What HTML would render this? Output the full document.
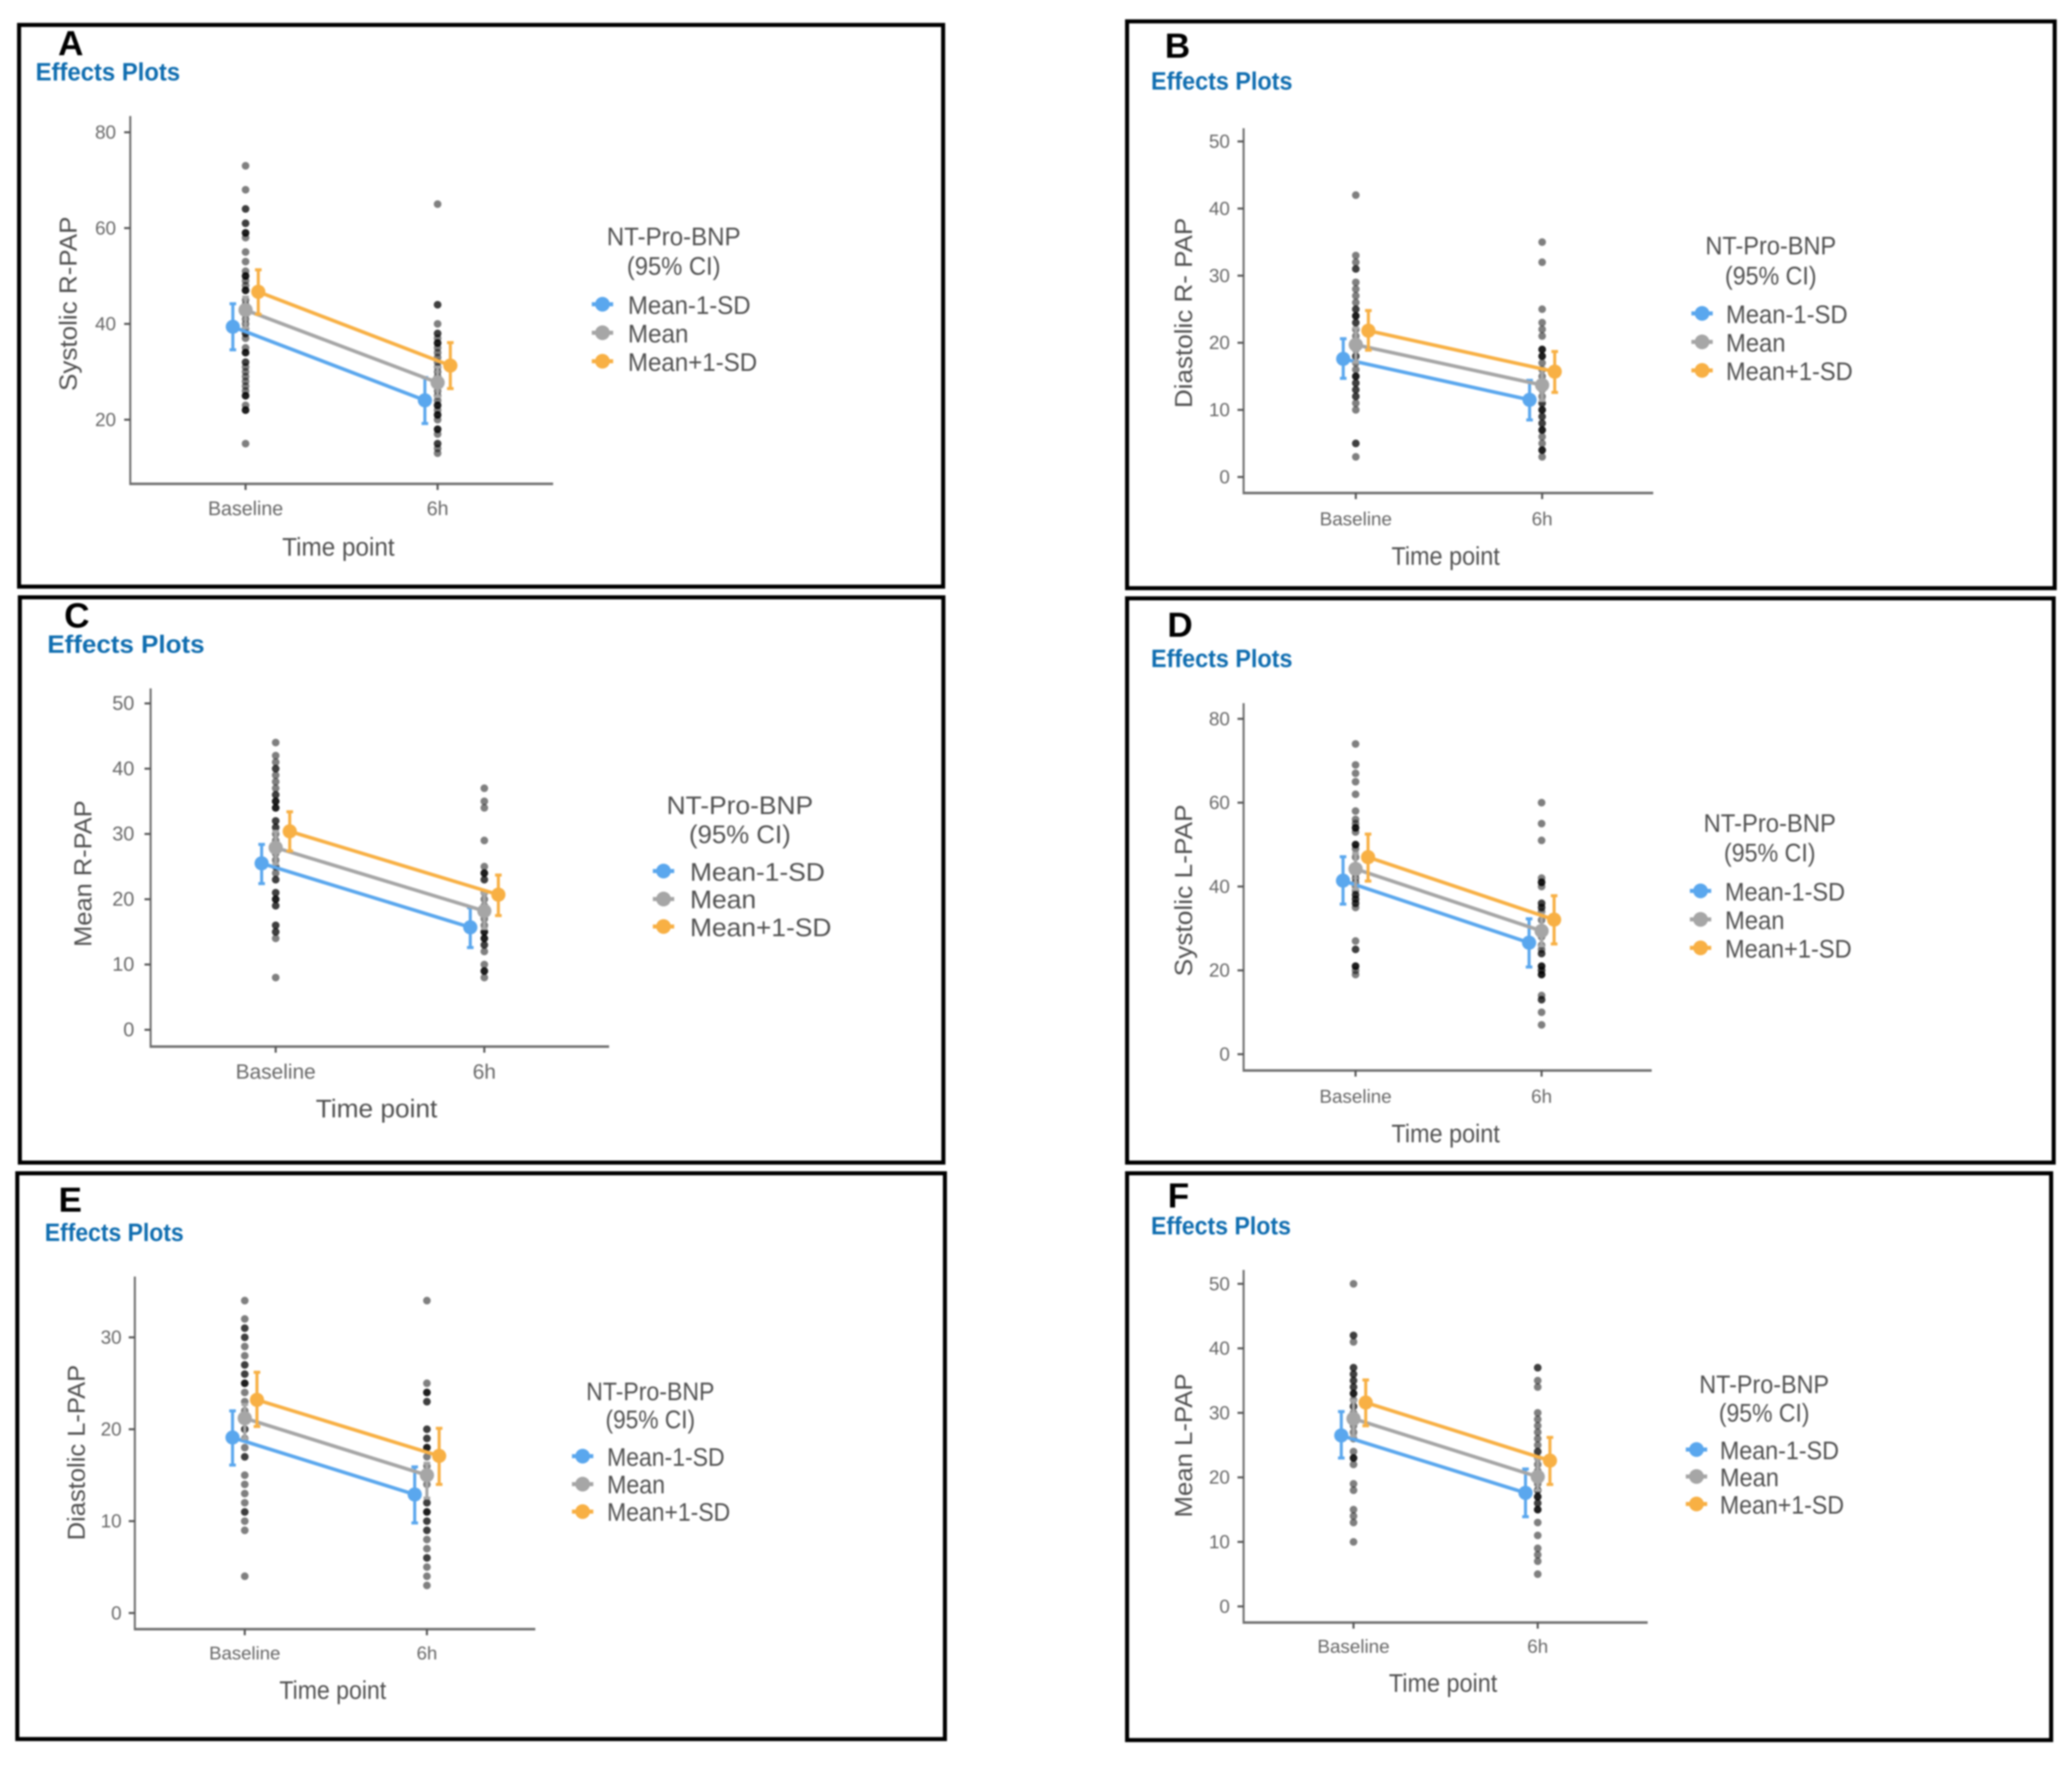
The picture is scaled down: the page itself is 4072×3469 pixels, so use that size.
<!DOCTYPE html>
<html lang="en">
<head>
<meta charset="utf-8">
<title>Effects Plots</title>
<style>
html,body{margin:0;padding:0;background:#fff;width:4072px;height:3469px;overflow:hidden}
svg{display:block;filter:blur(1.5px)}
text{font-family:"Liberation Sans",sans-serif;dominant-baseline:central}
.box{fill:#fff;stroke:#000;stroke-width:8}
.letter{font-size:69px;font-weight:700;fill:#000;text-anchor:middle}
.eff{font-size:49px;font-weight:700;fill:#0f6db0}
.ytitle{font-size:48px;fill:#505050;text-anchor:middle}
.xtitle{font-size:50px;fill:#505050;text-anchor:middle}
.lt{font-size:50px;fill:#505050;text-anchor:middle}
.li{font-size:50px;fill:#505050}
.tick{font-size:37px;fill:#666}
</style>
</head>
<body>
<svg xmlns="http://www.w3.org/2000/svg" width="4072" height="3469" viewBox="0 0 4072 3469">
<defs>
<g id="k"><line x1="-21" x2="21" y1="0" y2="0" stroke-width="8" stroke="currentColor"/><circle r="14.5" fill="currentColor"/></g>
</defs>
<rect width="4072" height="3469" fill="#fff"/>

<g>
<rect class="box" x="37.5" y="49" width="1816" height="1104"/>
<g id="plot-a"></g>
<text class="letter" x="139" y="85">A</text>
<text class="eff" x="70" y="142" textLength="284" lengthAdjust="spacingAndGlyphs">Effects Plots</text>
<text class="ytitle" transform="translate(135 597) rotate(-90)" textLength="343" lengthAdjust="spacingAndGlyphs">Systolic R-PAP</text>
<text class="xtitle" x="665" y="1075" textLength="221" lengthAdjust="spacingAndGlyphs">Time point</text>
<text class="lt" x="1324" y="465" textLength="263" lengthAdjust="spacingAndGlyphs">NT-Pro-BNP</text>
<text class="lt" x="1324" y="523" textLength="184" lengthAdjust="spacingAndGlyphs">(95% CI)</text>
<use href="#k" x="1184" y="598" color="#5aa7ee"/>
<use href="#k" x="1184" y="654" color="#a6a6a6"/>
<use href="#k" x="1184" y="710" color="#f8b044"/>
<text class="li" x="1234" y="600" textLength="241" lengthAdjust="spacingAndGlyphs">Mean-1-SD</text>
<text class="li" x="1234" y="656" textLength="119" lengthAdjust="spacingAndGlyphs">Mean</text>
<text class="li" x="1234" y="712" textLength="254" lengthAdjust="spacingAndGlyphs">Mean+1-SD</text>
</g>

<g>
<rect class="box" x="2215" y="42" width="1823" height="1114"/>
<g id="plot-b"></g>
<text class="letter" x="2314" y="90">B</text>
<text class="eff" x="2262" y="160" textLength="278" lengthAdjust="spacingAndGlyphs">Effects Plots</text>
<text class="ytitle" transform="translate(2327 615) rotate(-90)" textLength="374" lengthAdjust="spacingAndGlyphs">Diastolic R- PAP</text>
<text class="xtitle" x="2841" y="1093" textLength="213" lengthAdjust="spacingAndGlyphs">Time point</text>
<text class="lt" x="3480" y="483" textLength="257" lengthAdjust="spacingAndGlyphs">NT-Pro-BNP</text>
<text class="lt" x="3480" y="542" textLength="180" lengthAdjust="spacingAndGlyphs">(95% CI)</text>
<use href="#k" x="3345" y="616" color="#5aa7ee"/>
<use href="#k" x="3345" y="672" color="#a6a6a6"/>
<use href="#k" x="3345" y="728" color="#f8b044"/>
<text class="li" x="3392" y="618" textLength="239" lengthAdjust="spacingAndGlyphs">Mean-1-SD</text>
<text class="li" x="3392" y="674" textLength="117" lengthAdjust="spacingAndGlyphs">Mean</text>
<text class="li" x="3392" y="730" textLength="249" lengthAdjust="spacingAndGlyphs">Mean+1-SD</text>
</g>

<g>
<rect class="box" x="39" y="1174" width="1815" height="1111"/>
<g id="plot-c"></g>
<text class="letter" x="151" y="1210">C</text>
<text class="eff" x="93" y="1267" textLength="309" lengthAdjust="spacingAndGlyphs">Effects Plots</text>
<text class="ytitle" transform="translate(164 1717) rotate(-90)" textLength="288" lengthAdjust="spacingAndGlyphs">Mean R-PAP</text>
<text class="xtitle" x="740" y="2179" textLength="239" lengthAdjust="spacingAndGlyphs">Time point</text>
<text class="lt" x="1454" y="1583" textLength="288" lengthAdjust="spacingAndGlyphs">NT-Pro-BNP</text>
<text class="lt" x="1454" y="1640" textLength="200" lengthAdjust="spacingAndGlyphs">(95% CI)</text>
<use href="#k" x="1304" y="1712" color="#5aa7ee"/>
<use href="#k" x="1304" y="1767" color="#a6a6a6"/>
<use href="#k" x="1304" y="1821" color="#f8b044"/>
<text class="li" x="1356" y="1714" textLength="265" lengthAdjust="spacingAndGlyphs">Mean-1-SD</text>
<text class="li" x="1356" y="1768" textLength="130" lengthAdjust="spacingAndGlyphs">Mean</text>
<text class="li" x="1356" y="1823" textLength="278" lengthAdjust="spacingAndGlyphs">Mean+1-SD</text>
</g>

<g>
<rect class="box" x="2215" y="1176" width="1821" height="1109"/>
<g id="plot-d"></g>
<text class="letter" x="2319" y="1228">D</text>
<text class="eff" x="2262" y="1295" textLength="278" lengthAdjust="spacingAndGlyphs">Effects Plots</text>
<text class="ytitle" transform="translate(2327 1750) rotate(-90)" textLength="338" lengthAdjust="spacingAndGlyphs">Systolic L-PAP</text>
<text class="xtitle" x="2841" y="2228" textLength="213" lengthAdjust="spacingAndGlyphs">Time point</text>
<text class="lt" x="3478" y="1618" textLength="260" lengthAdjust="spacingAndGlyphs">NT-Pro-BNP</text>
<text class="lt" x="3478" y="1676" textLength="180" lengthAdjust="spacingAndGlyphs">(95% CI)</text>
<use href="#k" x="3342" y="1751" color="#5aa7ee"/>
<use href="#k" x="3342" y="1807" color="#a6a6a6"/>
<use href="#k" x="3342" y="1863" color="#f8b044"/>
<text class="li" x="3390" y="1753" textLength="236" lengthAdjust="spacingAndGlyphs">Mean-1-SD</text>
<text class="li" x="3390" y="1809" textLength="117" lengthAdjust="spacingAndGlyphs">Mean</text>
<text class="li" x="3390" y="1865" textLength="249" lengthAdjust="spacingAndGlyphs">Mean+1-SD</text>
</g>

<g>
<rect class="box" x="34" y="2306" width="1823" height="1112"/>
<g id="plot-e"></g>
<text class="letter" x="138" y="2358">E</text>
<text class="eff" x="88" y="2423" textLength="273" lengthAdjust="spacingAndGlyphs">Effects Plots</text>
<text class="ytitle" transform="translate(151 2855) rotate(-90)" textLength="345" lengthAdjust="spacingAndGlyphs">Diastolic L-PAP</text>
<text class="xtitle" x="654" y="3322" textLength="210" lengthAdjust="spacingAndGlyphs">Time point</text>
<text class="lt" x="1278" y="2735" textLength="252" lengthAdjust="spacingAndGlyphs">NT-Pro-BNP</text>
<text class="lt" x="1278" y="2790" textLength="176" lengthAdjust="spacingAndGlyphs">(95% CI)</text>
<use href="#k" x="1145" y="2862" color="#5aa7ee"/>
<use href="#k" x="1145" y="2917" color="#a6a6a6"/>
<use href="#k" x="1145" y="2971" color="#f8b044"/>
<text class="li" x="1193" y="2864" textLength="231" lengthAdjust="spacingAndGlyphs">Mean-1-SD</text>
<text class="li" x="1193" y="2918" textLength="114" lengthAdjust="spacingAndGlyphs">Mean</text>
<text class="li" x="1193" y="2972" textLength="242" lengthAdjust="spacingAndGlyphs">Mean+1-SD</text>
</g>

<g>
<rect class="box" x="2215" y="2306" width="1816" height="1114"/>
<g id="plot-f"></g>
<text class="letter" x="2316" y="2350">F</text>
<text class="eff" x="2262" y="2410" textLength="275" lengthAdjust="spacingAndGlyphs">Effects Plots</text>
<text class="ytitle" transform="translate(2327 2841) rotate(-90)" textLength="283" lengthAdjust="spacingAndGlyphs">Mean L-PAP</text>
<text class="xtitle" x="2836" y="3308" textLength="213" lengthAdjust="spacingAndGlyphs">Time point</text>
<text class="lt" x="3467" y="2721" textLength="255" lengthAdjust="spacingAndGlyphs">NT-Pro-BNP</text>
<text class="lt" x="3467" y="2777" textLength="178" lengthAdjust="spacingAndGlyphs">(95% CI)</text>
<use href="#k" x="3334" y="2849" color="#5aa7ee"/>
<use href="#k" x="3334" y="2902" color="#a6a6a6"/>
<use href="#k" x="3334" y="2956" color="#f8b044"/>
<text class="li" x="3380" y="2851" textLength="234" lengthAdjust="spacingAndGlyphs">Mean-1-SD</text>
<text class="li" x="3380" y="2904" textLength="116" lengthAdjust="spacingAndGlyphs">Mean</text>
<text class="li" x="3380" y="2958" textLength="244" lengthAdjust="spacingAndGlyphs">Mean+1-SD</text>
</g>
</svg>

<script>
// Shared categories
const categories = ['Baseline', '6h'];

// Panel A: Systolic R-PAP
const aTicks = [20, 40, 60, 80];
const aBaselineDots = [73,68,64,64,61,61,59,59,59,58,55,53,51,50,50,50,49,48,47,47,47,45,44,43,42,41,40,39,38,38,37,35,34,34,34,32,32,31,30,29,28,27,26,25,25,25,23,22,22,22,15];
const aSixHourDots = [65,44,44,40,38,38,37,36,36,36,35,34,33,32,31,30,29,28,27,26,25,24,23,23,23,22,21,21,21,20,18,18,18,17,15,15,14,13];
const aLow = [39.4, 24.05];
const aLowLower = [34.6, 19.2];
const aLowUpper = [44.2, 28.8];
const aMid = [42.9, 27.75];
const aMidLower = [39.2, 24.8];
const aMidUpper = [45.6, 31];
const aHigh = [46.7, 31.3];
const aHighLower = [42, 26.5];
const aHighUpper = [51.3, 36.1];

// Panel B: Diastolic R-PAP
const bTicks = [0, 10, 20, 30, 40, 50];
const bBaselineDots = [42,33,32,31,31,29,28,27,26,25,25,24,24,24,23,23,22,21,20,19,18,18,17,16,15,15,15,14,14,13,13,12,12,11,10,5,5,3];
const bSixHourDots = [35,32,25,23,22,21,19,19,19,18,18,18,17,16,15,14,13,12,11,11,10,10,10,9,9,8,8,7,7,7,6,5,4,4,4,3];
const bLow = [17.6, 11.5];
const bLowLower = [14.7, 8.5];
const bLowUpper = [20.6, 14.4];
const bMid = [19.7, 13.7];
const bMidLower = [17.1, 11.4];
const bMidUpper = [22.2, 16.2];
const bHigh = [21.8, 15.7];
const bHighLower = [18.9, 12.6];
const bHighUpper = [24.8, 18.7];

// Panel C: Mean R-PAP
const cTicks = [0, 10, 20, 30, 40, 50];
const cBaselineDots = [44,42,41,40,40,39,38,37,36,36,35,35,35,34,34,34,32,32,31,31,30,29,28,27,26,25,25,24,23,23,21,21,20,20,20,19,19,16,16,15,15,14,8];
const cSixHourDots = [37,35,34,29,25,24,24,24,23,23,21,20,19,18,17,16,15,15,15,14,14,14,13,13,12,10,9,9,9,8];
const cLow = [25.5, 15.7];
const cLowLower = [22.4, 12.6];
const cLowUpper = [28.4, 18.7];
const cMid = [27.9, 18.2];
const cMidLower = [25.4, 15.5];
const cMidUpper = [30.4, 20.9];
const cHigh = [30.4, 20.7];
const cHighLower = [27.4, 17.5];
const cHighUpper = [33.4, 23.7];

// Panel D: Systolic L-PAP
const dTicks = [0, 20, 40, 60, 80];
const dBaselineDots = [74,69,67,65,62,58,56,55,54,54,54,53,50,50,50,49,47,45,44,43,42,41,40,39,38,38,37,37,36,36,35,27,25,25,21,21,21,20,19];
const dSixHourDots = [60,55,51,42,41,41,41,40,36,36,35,35,34,32,30,28,26,25,24,24,21,21,21,20,20,19,19,19,14,13,13,10,7];
const dLow = [41.4, 26.6];
const dLowLower = [35.8, 20.8];
const dLowUpper = [47.1, 32.3];
const dMid = [44.2, 29.4];
const dMidLower = [39.4, 25.8];
const dMidUpper = [47.9, 33.4];
const dHigh = [47, 32.1];
const dHighLower = [41.3, 26.3];
const dHighUpper = [52.5, 37.8];

// Panel E: Diastolic L-PAP
const eTicks = [0, 10, 20, 30];
const eBaselineDots = [34,32,31,31,30,30,29,28,27,27,26,26,25,25,25,24,23,22,21,20,20,19,18,17,17,15,14,13,12,11,11,10,9,4];
const eSixHourDots = [34,25,24,24,24,23,23,20,20,19,19,18,18,18,17,16,15,14,12,12,11,11,11,10,10,9,9,8,7,6,6,5,4,3];
const eLow = [19.1, 12.9];
const eLowLower = [16.1, 9.8];
const eLowUpper = [22, 15.9];
const eMid = [21.2, 15];
const eMidLower = [19, 12.5];
const eMidUpper = [22.7, 16.3];
const eHigh = [23.2, 17.1];
const eHighLower = [20.3, 14];
const eHighUpper = [26.2, 20.1];

// Panel F: Mean L-PAP
const fTicks = [0, 10, 20, 30, 40, 50];
const fBaselineDots = [50,42,42,41,37,37,36,36,35,35,34,34,33,33,33,32,31,31,30,29,28,27,26,24,23,23,23,22,19,18,15,14,13,10];
const fSixHourDots = [37,37,35,34,30,29,28,27,26,25,24,24,23,22,21,20,19,18,18,17,17,17,16,16,15,15,15,13,11,9,8,7,5];
const fLow = [26.5, 17.6];
const fLowLower = [23, 13.9];
const fLowUpper = [30.2, 21.3];
const fMid = [29.1, 20.1];
const fMidLower = [26.4, 18];
const fMidUpper = [31.9, 22.9];
const fHigh = [31.6, 22.6];
const fHighLower = [28, 18.9];
const fHighUpper = [35.1, 26.2];

// Axis frames (layout only)
const frames = {
  a: {left:256,  right:1087, top:228,  bottom:951,  zero:1013.2, unit:9.415, c0:482.6, c1:860,   dodge:25,   catY:1000, catSize:38.5, tickSize:37, tickGap:28},
  b: {left:2444, right:3249, top:252,  bottom:969,  zero:937.5,  unit:13.19, c0:2664.5,c1:3030.7,dodge:24.7, catY:1020, catSize:37,   tickSize:37, tickGap:27},
  c: {left:296,  right:1197, top:1353, bottom:2057, zero:2024,   unit:12.83, c0:541.8, c1:951.8, dodge:27.6, catY:2106, catSize:41,   tickSize:39, tickGap:32},
  d: {left:2444, right:3246, top:1382, bottom:2104, zero:2072,   unit:8.24,  c0:2664,  c1:3029.6,dodge:24.6, catY:2155, catSize:37,   tickSize:37, tickGap:27},
  e: {left:265,  right:1052, top:2509, bottom:3202, zero:3170.3, unit:18.06, c0:481,   c1:839,   dodge:24,   catY:3249, catSize:36.5, tickSize:37, tickGap:26},
  f: {left:2444, right:3238, top:2496, bottom:3189, zero:3157.3, unit:12.68, c0:2660,  c1:3022,  dodge:24,   catY:3236, catSize:37,   tickSize:37, tickGap:27}
};

const NS = 'http://www.w3.org/2000/svg';
function mk(tag, attrs, parent) {
  const el = document.createElementNS(NS, tag);
  for (const k in attrs) el.setAttribute(k, attrs[k]);
  parent.appendChild(el);
  return el;
}

function drawSeries(root, f, yOf, means, lows, highs, offset, color) {
  const xs = [f.c0 + offset, f.c1 + offset];
  const line = mk('line', {x1:xs[0], y1:yOf(means[0]), x2:xs[1], y2:yOf(means[1]), stroke:color, 'stroke-width':7}, root);
  
  
  xs.forEach(function (x, i) {
    const bar = mk('path', {
      d: 'M' + (x-6.5) + ' ' + yOf(highs[i]) + 'H' + (x+6.5) + 'M' + x + ' ' + yOf(highs[i]) + 'V' + yOf(lows[i]) + 'M' + (x-6.5) + ' ' + yOf(lows[i]) + 'H' + (x+6.5),
      stroke: color, 'stroke-width': 6, fill: 'none'
    }, root);
    
    
    const pt = mk('circle', {cx:x, cy:yOf(means[i]), r:14, fill:color}, root);
    
    
  });
}

function drawPanel(id, ticks, baseDots, sixDots, series) {
  const f = frames[id];
  const root = document.getElementById('plot-' + id);
  const yOf = function (v) { return f.zero - v * f.unit; };

  const yAxis = mk('line', {x1:f.left, x2:f.left, y1:f.top, y2:f.bottom, stroke:'#707070', 'stroke-width':4}, root);
  
  
  const xAxis = mk('line', {x1:f.left-2, x2:f.right, y1:f.bottom, y2:f.bottom, stroke:'#707070', 'stroke-width':5}, root);
  
  

  ticks.forEach(function (t) {
    const mark = mk('line', {x1:f.left-12, x2:f.left, y1:yOf(t), y2:yOf(t), stroke:'#555', 'stroke-width':4}, root);
    
    
    const lab = mk('text', {x:f.left-f.tickGap, y:yOf(t), 'text-anchor':'end', 'class':'tick'}, root);
    
    
    lab.style.fontSize = f.tickSize + 'px';
    lab.textContent = t;
  });

  [f.c0, f.c1].forEach(function (x, i) {
    const mark = mk('line', {x1:x, x2:x, y1:f.bottom, y2:f.bottom+12, stroke:'#555', 'stroke-width':4}, root);
    
    
    const lab = mk('text', {x:x, y:f.catY, 'text-anchor':'middle', 'class':'tick'}, root);
    
    
    lab.style.fontSize = f.catSize + 'px';
    lab.textContent = categories[i];
  });

  [[baseDots, f.c0], [sixDots, f.c1]].forEach(function (pair) {
    pair[0].forEach(function (v) {
      const dot = mk('circle', {cx:pair[1], cy:yOf(v), r:7.5, fill:'#000', 'fill-opacity':0.5}, root);
      
      
    });
  });

  drawSeries(root, f, yOf, series[0][0], series[0][1], series[0][2], -f.dodge, '#5aa7ee');
  drawSeries(root, f, yOf, series[1][0], series[1][1], series[1][2], 0, '#a6a6a6');
  drawSeries(root, f, yOf, series[2][0], series[2][1], series[2][2], f.dodge, '#f8b044');
}

drawPanel('a', aTicks, aBaselineDots, aSixHourDots, [[aLow,aLowLower,aLowUpper],[aMid,aMidLower,aMidUpper],[aHigh,aHighLower,aHighUpper]]);
drawPanel('b', bTicks, bBaselineDots, bSixHourDots, [[bLow,bLowLower,bLowUpper],[bMid,bMidLower,bMidUpper],[bHigh,bHighLower,bHighUpper]]);
drawPanel('c', cTicks, cBaselineDots, cSixHourDots, [[cLow,cLowLower,cLowUpper],[cMid,cMidLower,cMidUpper],[cHigh,cHighLower,cHighUpper]]);
drawPanel('d', dTicks, dBaselineDots, dSixHourDots, [[dLow,dLowLower,dLowUpper],[dMid,dMidLower,dMidUpper],[dHigh,dHighLower,dHighUpper]]);
drawPanel('e', eTicks, eBaselineDots, eSixHourDots, [[eLow,eLowLower,eLowUpper],[eMid,eMidLower,eMidUpper],[eHigh,eHighLower,eHighUpper]]);
drawPanel('f', fTicks, fBaselineDots, fSixHourDots, [[fLow,fLowLower,fLowUpper],[fMid,fMidLower,fMidUpper],[fHigh,fHighLower,fHighUpper]]);
</script>
</body>
</html>
